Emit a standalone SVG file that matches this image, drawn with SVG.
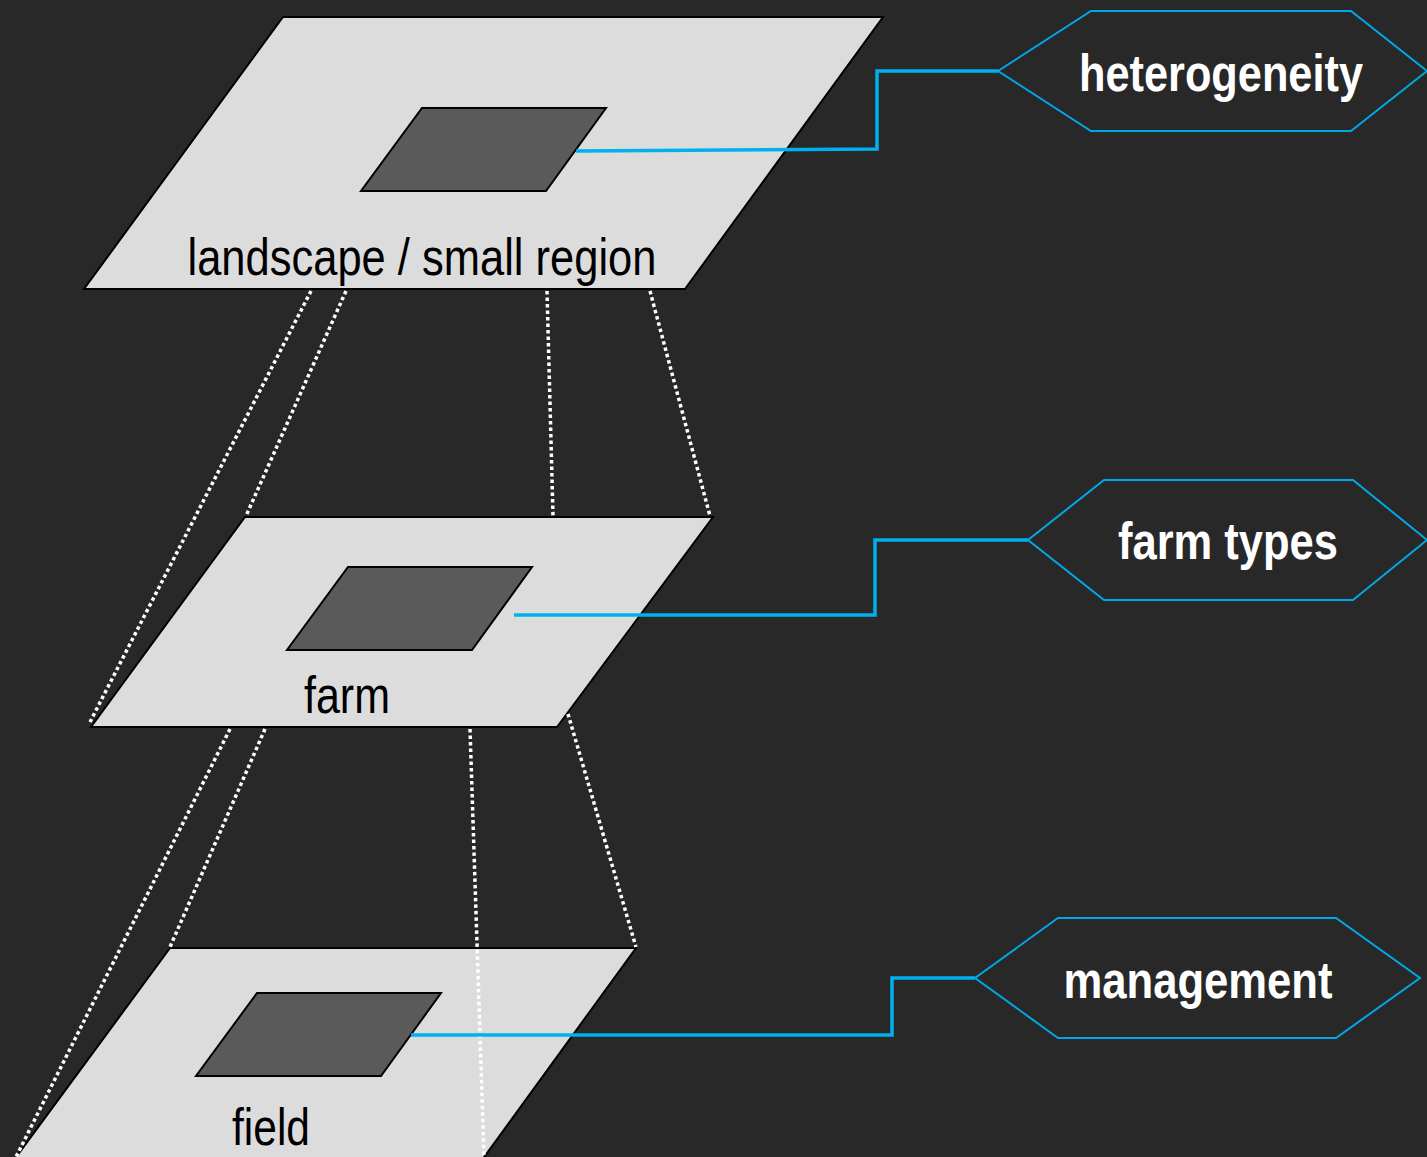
<svg xmlns="http://www.w3.org/2000/svg" width="1427" height="1157" viewBox="0 0 1427 1157">
<style>
.bg{fill:#282828}
.layer{fill:#dcdcdc;stroke:#000;stroke-width:2}
.unit{fill:#5a5a5a;stroke:#000;stroke-width:2}
.lbl{font-family:"Liberation Sans Narrow","Liberation Sans",Arial,sans-serif;font-size:52px;fill:#000;text-anchor:middle}
.tag{fill:none;stroke:#00a8e8;stroke-width:2}
.tagtxt{font-family:"Liberation Sans Narrow","Liberation Sans",Arial,sans-serif;font-size:52px;font-weight:bold;fill:#fff;text-anchor:middle}
.conn{fill:none;stroke:#00b0f0;stroke-width:3.5}
.dot{fill:none;stroke:#fff;stroke-width:3.5;stroke-dasharray:3.5 3}
</style>
<rect class="bg" x="0" y="0" width="1427" height="1157"/>
<g id="layer-landscape">
<polygon class="layer" points="283,17 883,17 685,289 84,289"/>
<polygon class="unit" points="422,108 606,108 546,191 361,191"/>
<text class="lbl" x="422" y="275" textLength="469" lengthAdjust="spacingAndGlyphs">landscape / small region</text>
</g>
<g id="layer-farm">
<polygon class="layer" points="245,517 713,517 557,727 91,727"/>
<polygon class="unit" points="348,567 532,567 472,650 287,650"/>
<text class="lbl" x="347" y="713" textLength="86" lengthAdjust="spacingAndGlyphs">farm</text>
</g>
<g id="layer-field">
<polygon class="layer" points="170,948 636,948 482,1160 14,1160"/>
<polygon class="unit" points="257,993 441,993 381,1076 196,1076"/>
<text class="lbl" x="271" y="1145" textLength="78" lengthAdjust="spacingAndGlyphs">field</text>
</g>
<g id="tag-heterogeneity">
<polygon class="tag" points="998,71 1091,11 1351,11 1427,71 1351,131 1091,131"/>
<text class="tagtxt" x="1221" y="91" textLength="284" lengthAdjust="spacingAndGlyphs">heterogeneity</text>
</g>
<g id="tag-farmtypes">
<polygon class="tag" points="1028,540 1104,480 1353,480 1427,540 1353,600 1104,600"/>
<text class="tagtxt" x="1228" y="559" textLength="220" lengthAdjust="spacingAndGlyphs">farm types</text>
</g>
<g id="tag-management">
<polygon class="tag" points="975,978 1058,918 1336,918 1420,978 1336,1038 1058,1038"/>
<text class="tagtxt" x="1198" y="998" textLength="269" lengthAdjust="spacingAndGlyphs">management</text>
</g>
<g id="connectors">
<line class="dot" x1="311" y1="291" x2="90" y2="722"/>
<line class="dot" x1="346" y1="291" x2="246" y2="516"/>
<line class="dot" x1="547" y1="291" x2="553" y2="516"/>
<line class="dot" x1="650" y1="291" x2="710" y2="516"/>
<line class="dot" x1="230" y1="729" x2="16" y2="1157"/>
<line class="dot" x1="265" y1="729" x2="170" y2="947"/>
<line class="dot" x1="470" y1="729" x2="484" y2="1157"/>
<line class="dot" x1="568" y1="714" x2="636" y2="947"/>
<polyline class="conn" points="576,151 877,149 877,71 998,71"/>
<polyline class="conn" points="514,615 875,615 875,540 1028,540"/>
<polyline class="conn" points="411,1035 892,1035 892,978 975,978"/>
</g>
</svg>
